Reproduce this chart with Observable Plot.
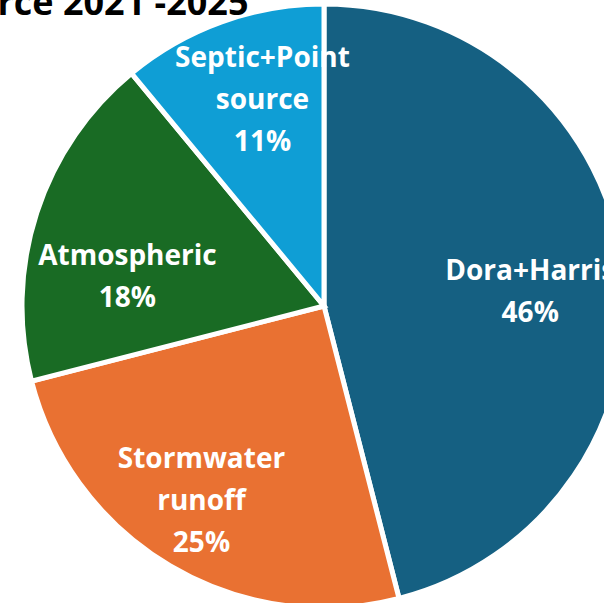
<!DOCTYPE html>
<html><head><meta charset="utf-8">
<script src="https://cdn.jsdelivr.net/npm/d3@7"></script>
<script src="https://cdn.jsdelivr.net/npm/@observablehq/plot@0.6"></script>
<style>body{margin:0;background:#fff;overflow:hidden}#chart svg{display:block}</style>
</head><body><div id="chart"></div>
<script>
// ---- data ----
const categories = ["Dora+Harris", "Stormwater runoff", "Atmospheric", "Septic+Point source"];
const labelLines = ["Dora+Harris", "Stormwater\nrunoff", "Atmospheric", "Septic+Point\nsource"];
const values = [46, 25, 18, 11];
const title = "Source 2021 -2025";

// ---- style / layout ----
const palette = ["#156082", "#E97132", "#196B24", "#0F9ED5"];
const W = 604, H = 603, CX = 324, CY = 306, R = 302;
const labelRadius = 0.7;
const labelNudge = [[-4, 8], [-15.4, 8.5], [4, 31.5], [9.6, -12.5]];

const table = categories.map((c, i) => ({category: c, value: values[i], color: palette[i], lines: labelLines[i]}));
const total = d3.sum(values);
const arcs = d3.pie().sort(null).value(d => d.value)(table);
const labels = arcs.map((a, i) => {
  const m = (a.startAngle + a.endAngle) / 2;
  return {
    x: labelRadius * Math.sin(m) + labelNudge[i][0] / R,
    y: labelRadius * Math.cos(m) - labelNudge[i][1] / R,
    text: a.data.lines + "\n" + Math.round(a.data.value / total * 100) + "%"
  };
});

function slices(index, scales) {
  let sx = scales && scales.x, sy = scales && scales.y;
  if (typeof sx !== "function") sx = d3.scaleLinear([-1, 1], [CX - R, CX + R]);
  if (typeof sy !== "function") sy = d3.scaleLinear([-1, 1], [CY + R, CY - R]);
  const cx = sx(0), cy = sy(0), r = sx(1) - sx(0);
  const g = d3.create("svg:g").attr("transform", `translate(${cx},${cy})`);
  const arc = d3.arc().innerRadius(0).outerRadius(r);
  g.selectAll("path").data(arcs).join("path")
    .attr("d", arc)
    .attr("fill", d => d.data.color)
    .attr("stroke", "#fff")
    .attr("stroke-width", 5)
    .attr("stroke-linejoin", "miter");
  return g.node();
}

const chart = Plot.plot({
  width: W, height: H, margin: 0,
  x: {domain: [-1, 1], range: [CX - R, CX + R], axis: null},
  y: {domain: [-1, 1], range: [CY + R, CY - R], axis: null},
  marks: [
    slices,
    Plot.text(labels, {x: "x", y: "y", text: "text", fill: "white", fontSize: 28, fontWeight: "bold", fontFamily: "Open Sans", lineHeight: 1.5}),
    Plot.text([title], {frameAnchor: "top-left", dx: 248, dy: 14, textAnchor: "end", lineAnchor: "bottom", fontSize: 36, fontWeight: "bold", fontFamily: "Open Sans", fill: "black"})
  ]
});
document.getElementById("chart").appendChild(chart);
</script>
</body></html>
